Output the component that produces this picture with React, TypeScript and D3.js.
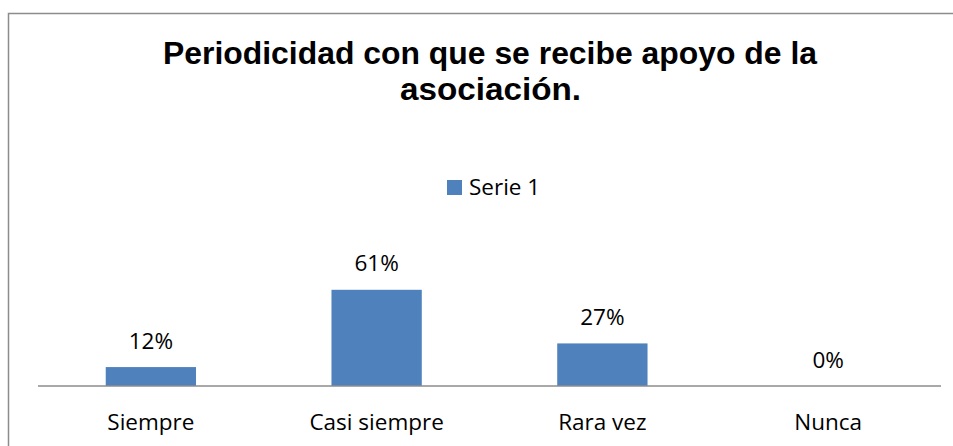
import React from "react";
import * as d3 from "d3";

const categories = ["Siempre", "Casi siempre", "Rara vez", "Nunca"];
const values = [0.12, 0.61, 0.27, 0.0];
const valueLabels = ["12%", "61%", "27%", "0%"];
const seriesName = "Serie 1";
const titleLines = ["Periodicidad con que se recibe apoyo de la", "asociación."];

const W = 953;
const H = 446;
const FONT = "'Open Sans', 'DejaVu Sans', sans-serif";

export default function App() {
  const x = d3.scaleBand<string>().domain(categories).range([38, 941]).padding(0);
  const y = d3.scaleLinear().domain([0, 0.7]).range([386, 275.6]);
  const barW = x.bandwidth() * 0.4;
  const data = categories.map((c, i) => ({ c, v: values[i], label: valueLabels[i] }));

  return (
    <svg width={W} height={H} style={{ position: "absolute", left: 0, top: 0, background: "#fff" }}>
      <rect x={0} y={0} width={W} height={H} fill="#fff" />
      <rect x={8.5} y={13.5} width={W + 20} height={H + 20} fill="none" stroke="#8c8c8c" strokeWidth={1.5} />
      <text x={490} y={63.5} textAnchor="middle" fontFamily="'Liberation Sans', Arial, sans-serif" fontWeight="bold" fontSize={31} textLength={654} lengthAdjust="spacingAndGlyphs" fill="#000">{titleLines[0]}</text>
      <text x={490.5} y={99.5} textAnchor="middle" fontFamily="'Liberation Sans', Arial, sans-serif" fontWeight="bold" fontSize={31} textLength={181} lengthAdjust="spacingAndGlyphs" fill="#000">{titleLines[1]}</text>
      <rect x={447} y={180} width={15} height={15} fill="#4F81BD" />
      <text x={469} y={195} fontFamily={FONT} fontSize={22.5} fill="#000">{seriesName}</text>
      {data.map((d) => {
        const cx = (x(d.c) as number) + x.bandwidth() / 2;
        return (
          <g key={d.c}>
            <rect x={cx - barW / 2} y={y(d.v)} width={barW} height={y(0) - y(d.v)} fill="#4F81BD" />
            <text x={cx} y={y(d.v) - 18.5} textAnchor="middle" fontFamily={FONT} fontSize={22.5} fill="#000">{d.label}</text>
            <text x={cx} y={429.5} textAnchor="middle" fontFamily={FONT} fontSize={22.5} fill="#000">{d.c}</text>
          </g>
        );
      })}
      <line x1={38} x2={941} y1={386} y2={386} stroke="#8c8c8c" strokeWidth={1.5} />
    </svg>
  );
}
